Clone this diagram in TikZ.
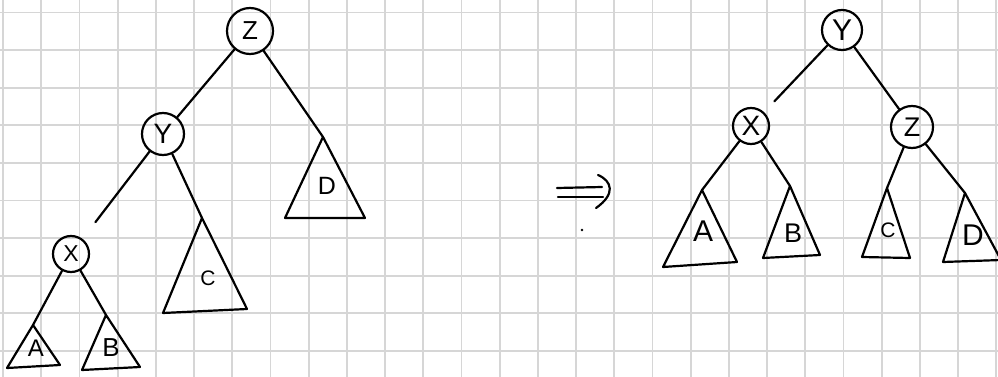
\documentclass[tikz,border=0pt]{standalone}
\usepackage{fontspec}
\setmainfont{Liberation Sans}
\definecolor{gridc}{HTML}{D6D6D6}
\begin{document}
\begin{tikzpicture}[x=1pt,y=-1pt,line join=round,line cap=round,
  ink/.style={line width=2.2pt,black},
  vtx/.style={circle,draw,line width=2.2pt,inner sep=0pt,minimum size=#1},
  fs/.style={font=\fontsize{#1}{#1}\selectfont},
  gridline/.style={draw=gridc,line width=1.8pt}]
\useasboundingbox (0,0) rectangle (998,377);
\fill[white] (0,0) rectangle (998,377);
% grid paper
\foreach \i in {0,...,26} \draw[gridline] ({3+38.2*\i},0) -- ++(0,377);
\foreach \j in {0,...,9} \draw[gridline] (0,{12.5+37.6*\j}) -- ++(998,0);

% ---------- left tree ----------
\node[vtx=46pt,fs=26] (lz) at (250,31) {Z};
\node[vtx=42pt,fs=28] (ly) at (163,134) {Y};
\node[vtx=36pt,fs=23] (lx) at (71,254) {X};

\coordinate (lDa) at (323,137);
\draw[ink] (lDa) -- (285,218) -- (365,218) -- cycle;
\node[fs=25] (lDl) at (327,186) {D};

\coordinate (lCa) at (202,218);
\draw[ink] (lCa) -- (163,313) -- (247,309) -- cycle;
\node[fs=21] (lCl) at (208,278) {C};

\coordinate (lAa) at (33,325);
\draw[ink] (lAa) -- (7,368) -- (60,365) -- cycle;
\node[fs=24] (lAl) at (36,348) {A};

\coordinate (lBa) at (106,315);
\draw[ink] (lBa) -- (82,370) -- (140,367) -- cycle;
\node[fs=26] (lBl) at (111,348) {B};

\draw[ink] (lz) -- (ly);
\draw[ink] (lz) -- (lDa);
\draw[ink,shorten >=21pt] (ly) -- (lx);
\draw[ink] (ly) -- (lCa);
\draw[ink] (lx) -- (lAa);
\draw[ink] (lx) -- (lBa);

% ---------- arrow ----------
\draw[ink] (557,188) -- (602,187);
\draw[ink] (558,197) -- (603,197);
\draw[ink] (598,175) .. controls (612,181) and (616,194) .. (596,208);
\fill (582,230) circle (1.3pt);

% ---------- right tree ----------
\node[vtx=40pt,fs=30] (ry) at (842,30) {Y};
\node[vtx=36pt,fs=28] (rx) at (751,126) {X};
\node[vtx=42pt,fs=27] (rz) at (912,127) {Z};

\coordinate (rAa) at (702,190);
\draw[ink] (rAa) -- (663,267) -- (737,262) -- cycle;
\node[fs=30] (rAl) at (703,231) {A};

\coordinate (rBa) at (790,186);
\draw[ink] (rBa) -- (763,258) -- (820,255) -- cycle;
\node[fs=27] (rBl) at (793,233) {B};

\coordinate (rCa) at (887,188);
\draw[ink] (rCa) -- (862,257) -- (910,258) -- cycle;
\node[fs=21] (rCl) at (888,230) {C};

\coordinate (rDa) at (965,193);
\draw[ink] (rDa) -- (943,262) -- (1001,260) -- cycle;
\node[fs=30] (rDl) at (973,235) {D};

\draw[ink,shorten >=15pt] (ry) -- (rx);
\draw[ink] (ry) -- (rz);
\draw[ink] (rx) -- (rAa);
\draw[ink] (rx) -- (rBa);
\draw[ink] (rz) -- (rCa);
\draw[ink] (rz) -- (rDa);
\end{tikzpicture}
\end{document}
